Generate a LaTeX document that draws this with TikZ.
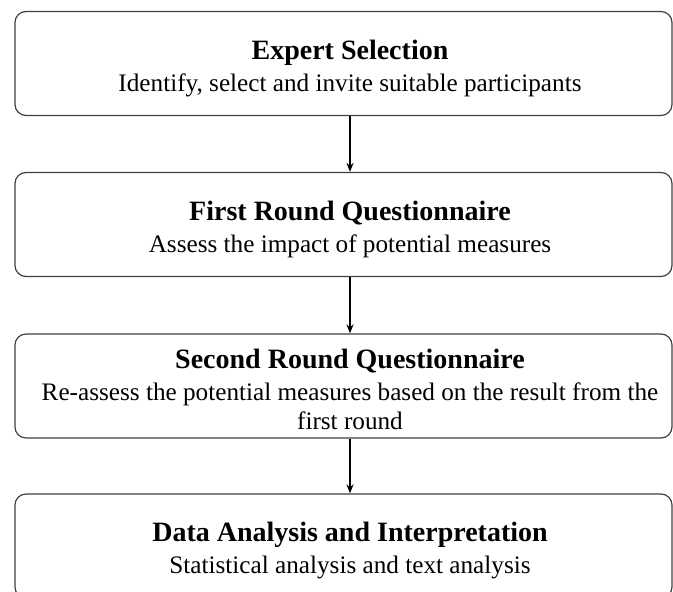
\documentclass[tikz,border=0pt]{standalone}
\usepackage{fontspec}
\setmainfont{Liberation Serif}
\usetikzlibrary{arrows.meta}

\begin{document}
\begin{tikzpicture}[x=1pt, y=1pt,
		stagebox/.style={draw=black!75, line width=1.2pt, rounded corners=11pt, minimum width=657pt, minimum height=104pt, inner sep=0pt},
		stagetext/.style={align=center, inner sep=0pt, font=\fontsize{25.2}{29}\selectfont},
		flow/.style={line width=1.5pt, -{Stealth[length=9pt, width=7pt]}}]
		%%%%% START %%%%%
		
		\useasboundingbox (0, 0) rectangle (673, 592);
		
		\node[stagebox] (b1) at (343.5, 528.5) {};
		\node[stagebox] (b2) at (343.5, 367.5) {};
		\node[stagebox] (b3) at (343.5, 206) {};
		\node[stagebox] (b4) at (343.5, 46) {};
		
		\node[stagetext] (t1) at (350, 523.5) {{\fontsize{28}{32}\selectfont\bfseries Expert Selection}\\[3pt] Identify, select and invite suitable participants};
		\node[stagetext] (t2) at (350, 362.5) {{\fontsize{28}{32}\selectfont\bfseries First Round Questionnaire}\\[3pt] Assess the impact of potential measures};
		\node[stagetext] (t3) at (350, 203) {{\fontsize{28}{32}\selectfont\bfseries Second Round Questionnaire}\\[3pt] Re-assess the potential measures based on the result from the\\ first round};
		\node[stagetext] (t4) at (350, 41) {{\fontsize{28}{32}\selectfont\bfseries Data Analysis and Interpretation}\\[3pt] Statistical analysis and text analysis};
		
		\draw[flow] (t1 |- b1.south) -- (t1 |- b2.north);
		\draw[flow] (t2 |- b2.south) -- (t2 |- b3.north);
		\draw[flow] (t3 |- b3.south) -- (t3 |- b4.north);
		
		%%%%% END %%%%%
	\end{tikzpicture}
\end{document}
